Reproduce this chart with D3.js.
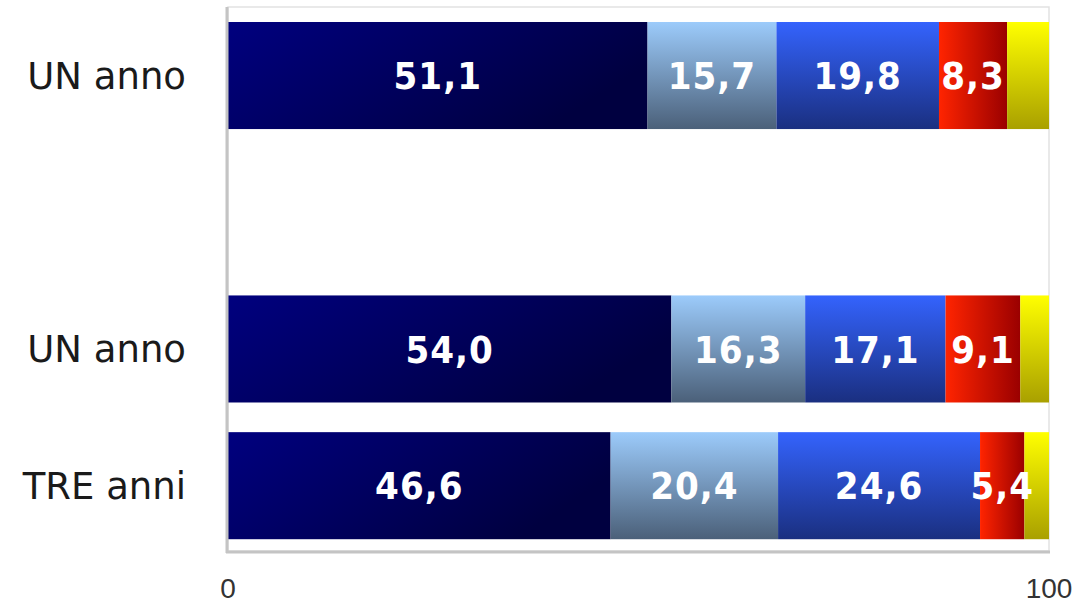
<!DOCTYPE html>
<html>
<head>
<meta charset="utf-8">
<script src="https://cdn.jsdelivr.net/npm/d3@7"></script>
<style>
  body { margin: 0; background: #fff; }
</style>
</head>
<body>
<div id="chart"></div>
<script>
// Data
const categories = ['r1', 'gap', 'r3', 'r4'];
const categoryLabels = ['UN anno', '', 'UN anno', 'TRE anni'];
const s1 = [51.1, null, 54.0, 46.6];
const s2 = [15.7, null, 16.3, 20.4];
const s3 = [19.8, null, 17.1, 24.6];
const s4 = [8.3, null, 9.1, 5.4];
const s5 = [5.1, null, 3.5, 3.0];
const xTicks = [0, 100];

const width = 1079, height = 605;
const margin = {top: 7, right: 30, bottom: 54, left: 228};
const innerWidth = 1049 - margin.left;
const innerHeight = 551 - margin.top;

const svg = d3.select('#chart').append('svg')
    .attr('width', width)
    .attr('height', height);

// Gradients for each series
const defs = svg.append('defs');
function grad(id, x2, y2, c1, c2) {
    const g = defs.append('linearGradient')
        .attr('id', id)
        .attr('x1', 0).attr('y1', 0)
        .attr('x2', x2).attr('y2', y2);
    g.append('stop').attr('offset', '0%').attr('stop-color', c1);
    g.append('stop').attr('offset', '100%').attr('stop-color', c2);
}
grad('g1', 1, 0.4, '#00007f', '#000040');
grad('g2', 0, 1, '#9ccbfb', '#4b6079');
grad('g3', 0, 1, '#3463fd', '#1a2f80');
grad('g4', 1, 0, '#ff2400', '#9a0000');
grad('g5', 0, 1, '#ffff00', '#a9a000');

const g = svg.append('g')
    .attr('transform', `translate(${margin.left},${margin.top})`);

const x = d3.scaleLinear().domain([0, 100]).range([0, innerWidth]);
const y = d3.scaleBand().domain(categories).range([0, innerHeight])
    .paddingInner(0.217).paddingOuter(0.098).align(0.56);

// Plot frame
g.append('rect')
    .attr('x', 0).attr('y', 0)
    .attr('width', innerWidth).attr('height', innerHeight)
    .attr('fill', '#fff')
    .attr('stroke', '#e2e2e2')
    .attr('stroke-width', 1.5);

const rows = categories.map((c, i) => ({
    cat: c,
    vals: [s1[i], s2[i], s3[i], s4[i], s5[i]]
})).filter(d => d.vals[0] != null);

const segs = [];
rows.forEach(r => {
    let acc = 0;
    r.vals.forEach((v, k) => {
        segs.push({cat: r.cat, k: k, v: v, x0: acc, x1: acc + v});
        acc += v;
    });
});

g.selectAll('.seg')
    .data(segs)
    .enter()
    .append('rect')
    .attr('class', 'seg')
    .attr('x', d => x(d.x0))
    .attr('y', d => y(d.cat))
    .attr('width', d => x(d.x1) - x(d.x0))
    .attr('height', y.bandwidth())
    .attr('fill', d => `url(#g${d.k + 1})`);

// Value labels (not on the last segment)
g.selectAll('.val')
    .data(segs.filter(d => d.k < 4))
    .enter()
    .append('text')
    .attr('class', 'val')
    .attr('x', d => x((d.x0 + d.x1) / 2))
    .attr('y', d => y(d.cat) + y.bandwidth() / 2)
    .attr('dy', '0.36em')
    .attr('text-anchor', 'middle')
    .style('font-family', '"DejaVu Sans Condensed", "DejaVu Sans", sans-serif')
    .style('font-weight', 'bold')
    .style('font-size', '38px')
    .style('letter-spacing', '1px')
    .style('fill', '#fff')
    .text(d => d.v.toFixed(1).replace('.', ','));

// Axes lines
g.append('line')
    .attr('x1', -1).attr('x2', -1)
    .attr('y1', 0).attr('y2', innerHeight + 2)
    .attr('stroke', '#c4c4c4').attr('stroke-width', 3);
g.append('line')
    .attr('x1', -2).attr('x2', innerWidth + 1)
    .attr('y1', innerHeight + 1).attr('y2', innerHeight + 1)
    .attr('stroke', '#c4c4c4').attr('stroke-width', 3);

// Category labels
g.selectAll('.cat')
    .data(categories.map((c, i) => ({c: c, label: categoryLabels[i]})).filter(d => d.label))
    .enter()
    .append('text')
    .attr('class', 'cat')
    .attr('x', -42)
    .attr('y', d => y(d.c) + y.bandwidth() / 2)
    .attr('dy', '0.36em')
    .attr('text-anchor', 'end')
    .style('font-family', '"DejaVu Sans", sans-serif')
    .style('font-size', '37px')
    .style('fill', '#1a1a1a')
    .text(d => d.label);

// X tick labels
g.selectAll('.tick-label')
    .data(xTicks)
    .enter()
    .append('text')
    .attr('class', 'tick-label')
    .attr('x', d => x(d))
    .attr('y', innerHeight + 47)
    .attr('text-anchor', 'middle')
    .style('font-family', '"Liberation Sans Narrow", "Liberation Sans", sans-serif')
    .style('font-size', '28px')
    .style('fill', '#333')
    .text(d => d);
</script>
</body>
</html>
